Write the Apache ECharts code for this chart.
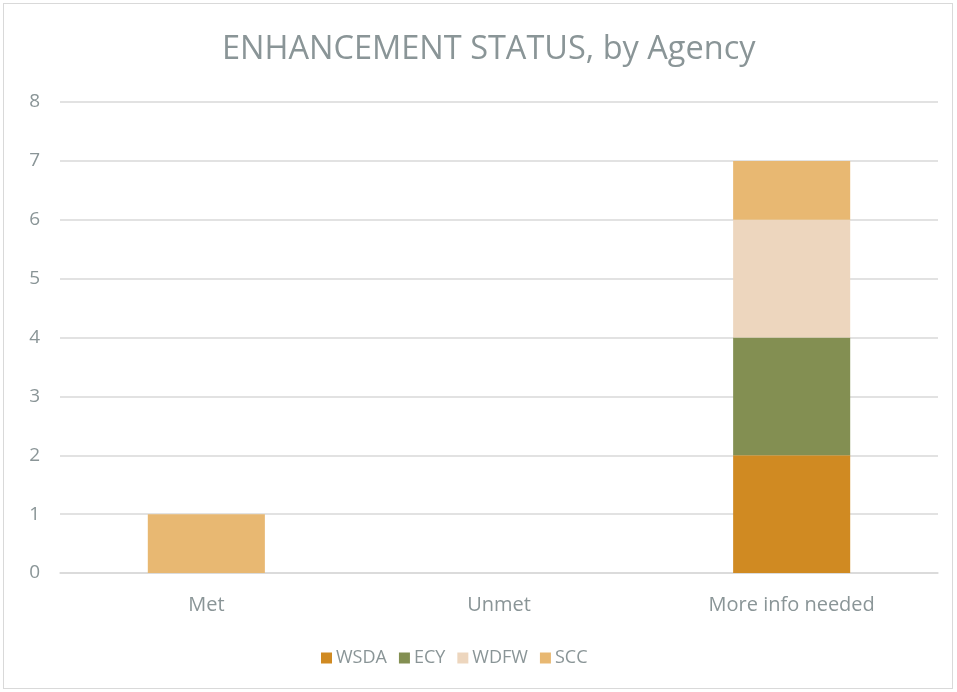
<!DOCTYPE html>
<html><head><meta charset="utf-8">
<script src="https://cdn.jsdelivr.net/npm/echarts@6/dist/echarts.min.js"></script>
<style>
html,body{margin:0;padding:0;background:#fff;}
#frame{position:absolute;left:3px;top:3px;width:950px;height:686px;border:1px solid #d9d9d9;box-sizing:border-box;}
#c{position:absolute;left:0;top:0;width:957px;height:692px;}
</style></head>
<body>
<div id="frame"></div>
<div id="c"></div>
<script>
const categories = ['Met', 'Unmet', 'More info needed'];
const seriesNames = ['WSDA', 'ECY', 'WDFW', 'SCC'];
const WSDA = [0, 0, 2];
const ECY = [0, 0, 2];
const WDFW = [0, 0, 2];
const SCC = [1, 0, 1];
const colors = ['#D08A22', '#838F52', '#EDD6BE', '#E8B872'];
const values = [WSDA, ECY, WDFW, SCC];
const textColor = '#8a9597';
const font = "'Open Sans', 'Liberation Sans', sans-serif";
const chart = echarts.init(document.getElementById('c'));
chart.setOption({
  animation: false,
  title: { text: 'ENHANCEMENT STATUS, by Agency', left: 217, top: 28,
    textStyle: { fontSize: 32.5, fontWeight: 'normal', color: textColor, fontFamily: font } },
  legend: { bottom: 20, left: 316, itemWidth: 11, itemHeight: 11, itemGap: 12,
    icon: 'rect', textStyle: { fontSize: 18, color: textColor, fontFamily: font, padding: [0,0,0,-1] },
    data: seriesNames },
  grid: { left: 60, right: 19, top: 102, bottom: 119 },
  xAxis: { type: 'category', data: categories,
    axisLine: { lineStyle: { color: '#d9d9d9', width: 1.5 } }, axisTick: { show: false },
    axisLabel: { fontSize: 20, color: textColor, fontFamily: font, margin: 22 } },
  yAxis: { type: 'value', min: 0, max: 8, interval: 1,
    axisLine: { show: false }, axisTick: { show: false },
    splitLine: { lineStyle: { color: '#d9d9d9', width: 1.5 } },
    axisLabel: { fontSize: 19, color: textColor, fontFamily: font, margin: 20 } },
  series: seriesNames.map((n, i) => ({
    name: n, type: 'bar', stack: 'a', data: values[i], barWidth: '40%',
    itemStyle: { color: colors[i] }
  }))
});
</script>
</body></html>
